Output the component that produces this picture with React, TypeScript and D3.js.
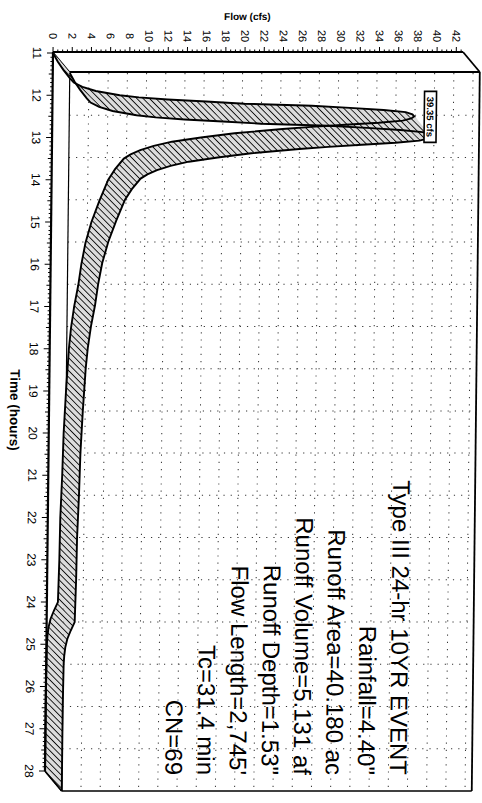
import React from 'react'
import * as d3 from 'd3'

// hydrograph (time in hours, flow in cfs)
const hours = [
  11.0, 11.2, 11.4, 11.6, 11.7, 11.8, 11.9, 12.0, 12.05, 12.1, 12.15, 12.2, 12.25, 12.3, 12.35,
  12.4, 12.45, 12.5, 12.55, 12.6, 12.65, 12.7, 12.75, 12.8, 12.9, 13.0, 13.1, 13.2, 13.3, 13.4,
  13.5, 13.75, 14.0, 14.5, 15.0, 15.5, 16.0, 16.5, 17.0, 17.5, 18.0, 19.0, 20.0, 21.0, 22.0,
  23.0, 24.0, 24.2, 24.4, 24.6, 24.8, 25.0, 26.0, 27.0, 28.0,
]
const flows = [
  0, 0.5, 1.1, 1.8, 2.2, 3.1, 4.5, 7.0, 9.0, 12.0, 16.0, 20.0, 27.0, 31.0, 34.5,
  36.8, 37.5, 37.7, 37.4, 36.5, 34.0, 30.5, 27.0, 24.0, 19.0, 15.5, 12.5, 10.6, 9.2, 8.2,
  7.5, 6.6, 5.9, 5.0, 4.2, 3.6, 3.2, 2.9, 2.5, 2.2, 2.0, 1.75, 1.55, 1.45, 1.3,
  1.25, 1.15, 0.75, 0.4, 0.2, 0.1, 0.05, 0, 0, 0,
]

const flowTicks = [0, 2, 4, 6, 8, 10, 12, 14, 16, 18, 20, 22, 24, 26, 28, 30, 32, 34, 36, 38, 40, 42]
const timeTicks = [11, 12, 13, 14, 15, 16, 17, 18, 19, 20, 21, 22, 23, 24, 25, 26, 27, 28]

const peakLabel = '39.35 cfs'
const infoLines = [
  'Type III 24-hr 10YR EVENT',
  'Rainfall=4.40"',
  'Runoff Area=40.180 ac',
  'Runoff Volume=5.131 af',
  'Runoff Depth=1.53"',
  "Flow Length=2,745'",
  'Tc=31.4 min',
  'CN=69',
]

const font = 'Liberation Sans, Arial, sans-serif'

export default function App() {
  const width = 482
  const height = 803
  const dx = 17
  const dy = 20

  const x = d3.scaleLinear().domain([0, 42.7]).range([53, 463])
  const y = d3.scaleLinear().domain([11, 28]).range([53, 771])

  const [x0, x1] = x.range()
  const [y0, y1] = y.range()

  const front: [number, number][] = hours.map((t, i) => [x(flows[i]), y(t)])
  const back: [number, number][] = front.map(([px, py]) => [px + dx, py + dy])
  const quads = front.slice(1).map((p, i) => [front[i], p, back[i + 1], back[i]])

  const line = d3.line()
  const peakIdx = d3.maxIndex(flows)
  const [peakX, peakY] = front[peakIdx]

  const minorFlow = d3.range(0, 42.7, 0.5)
  const minorTime = d3.range(11, 28.001, 0.1)

  return (
    <svg
      width={width}
      height={height}
      style={{ position: 'absolute', left: 0, top: 0, background: '#fff' }}
      fontFamily={font}
    >
      <defs>
        <pattern
          id="hatch"
          width={4.5}
          height={4.5}
          patternUnits="userSpaceOnUse"
          patternTransform="rotate(-45)"
        >
          <rect width={4.5} height={4.5} fill="#dcdcdc" />
          <line x1={0} y1={0} x2={0} y2={4.5} stroke="#000" strokeWidth={1.7} />
        </pattern>
      </defs>

      <g transform="translate(0,53) skewX(-0.64) translate(0,-53)">
        {/* back wall grid */}
        {flowTicks.slice(1).map((q) => (
          <line
            key={'gv' + q}
            x1={x(q) + dx}
            x2={x(q) + dx}
            y1={y0 + dy}
            y2={y1 + dy}
            stroke="#333"
            strokeWidth={1}
            strokeDasharray="1.2 6"
          />
        ))}
        {timeTicks.slice(1, -1).map((t) => (
          <line
            key={'gh' + t}
            x1={x0 + dx}
            x2={x1 + dx}
            y1={y(t) + dy}
            y2={y(t) + dy}
            stroke="#333"
            strokeWidth={1}
            strokeDasharray="1.2 6"
          />
        ))}

        {/* back wall frame */}
        <g stroke="#000" fill="none">
          <line x1={x0 + dx} x2={x1 + dx} y1={y0 + dy - 1} y2={y0 + dy - 1} strokeWidth={1.8} />
          <line x1={x0 + dx} x2={x0 + dx} y1={y0 + dy - 1} y2={y1 + dy} strokeWidth={1.2} />
          <line x1={x1 + dx} x2={x1 + dx} y1={y0 + dy - 1} y2={y1 + dy} strokeWidth={1.8} />
          <line x1={x0 + dx} x2={x1 + dx} y1={y1 + dy} y2={y1 + dy} strokeWidth={1.6} />
          <line x1={x1} x2={x1 + dx} y1={y0 - 1} y2={y0 + dy - 1} strokeWidth={1.8} />
          <line x1={x0} x2={x0 + dx} y1={y1} y2={y1 + dy} strokeWidth={1.6} />
          <line x1={x0} x2={x0 + dx} y1={y0 - 1} y2={y0 + dy - 1} strokeWidth={1} />
        </g>

        {/* hydrograph ribbon */}
        {quads.map((q, i) => (
          <path key={'q' + i} d={line(q as [number, number][]) + 'Z'} fill="url(#hatch)" stroke="none" />
        ))}
        <path d={line(front) || ''} fill="none" stroke="#000" strokeWidth={1.9} />
        <path d={line(back) || ''} fill="none" stroke="#000" strokeWidth={1.9} />
        <line
          x1={front[front.length - 1][0]}
          y1={front[front.length - 1][1]}
          x2={back[back.length - 1][0]}
          y2={back[back.length - 1][1]}
          stroke="#000"
          strokeWidth={1.6}
        />

        {/* peak label */}
        <rect x={peakX + 10} y={peakY - 25} width={12} height={51} fill="#fff" stroke="#000" strokeWidth={1.6} />
        <text
          transform={`translate(${peakX + 12.5},${peakY + 0.5}) rotate(90)`}
          textAnchor="middle"
          fontSize={9.5}
          fontWeight="bold"
        >
          {peakLabel}
        </text>

        {/* front axes */}
        <line x1={x0} x2={x1} y1={y0 - 1} y2={y0 - 1} stroke="#000" strokeWidth={2} />
        <line x1={x0} x2={x0} y1={y0 - 1} y2={y1} stroke="#000" strokeWidth={2.2} />
        {minorFlow.map((q) => (
          <line
            key={'tf' + q}
            x1={x(q)}
            x2={x(q)}
            y1={y0 - 1}
            y2={y0 - (Math.abs(q % 2) < 1e-6 ? 6 : 3.5)}
            stroke="#000"
            strokeWidth={1}
          />
        ))}
        {minorTime.map((t) => {
          const r = Math.round(t * 10)
          const len = r % 10 === 0 ? 6 : r % 5 === 0 ? 4 : 2.5
          return (
            <line key={'tt' + r} x1={x0} x2={x0 - len} y1={y(t)} y2={y(t)} stroke="#000" strokeWidth={1} />
          )
        })}

        {flowTicks.map((q) => (
          <text
            key={'lf' + q}
            transform={`translate(${x(q) - 4},36) rotate(90)`}
            textAnchor="middle"
            fontSize={11}
          >
            {q}
          </text>
        ))}
        {timeTicks.map((t) => (
          <text
            key={'lt' + t}
            transform={`translate(33,${y(t)}) rotate(90)`}
            textAnchor="middle"
            fontSize={12}
          >
            {t}
          </text>
        ))}

        <text x={247} y={20} textAnchor="middle" fontSize={10} fontWeight="bold">
          Flow (cfs)
        </text>
        <text transform="translate(14,410) rotate(90)" textAnchor="middle" fontSize={13.5} fontWeight="bold">
          Time (hours)
        </text>

        {/* event summary */}
        {infoLines.map((s, i) => (
          <text
            key={'info' + i}
            transform={`translate(${398 - i * 32.1},775) rotate(90)`}
            textAnchor="end"
            fontSize={24}
          >
            {s}
          </text>
        ))}
      </g>
    </svg>
  )
}
